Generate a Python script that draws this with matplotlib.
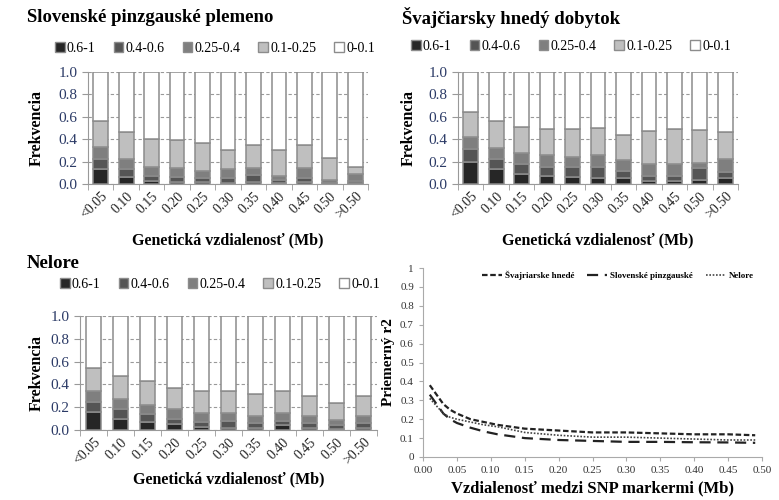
import numpy as np
import matplotlib
matplotlib.use("Agg")
import matplotlib.pyplot as plt
from matplotlib.patches import Patch
from matplotlib.lines import Line2D

plt.rcParams['font.family'] = ['Liberation Serif', 'DejaVu Serif']

# categories of genetic distance
categories = ['<0.05', '0.10', '0.15', '0.20', '0.25', '0.30', '0.35', '0.40', '0.45', '0.50', '>0.50']
classes = ['0.6-1', '0.4-0.6', '0.25-0.4', '0.1-0.25', '0-0.1']

# Slovenske pinzgauske plemeno
slov_06_1 = [0.13, 0.06, 0.03, 0.02, 0.02, 0.01, 0.02, 0.01, 0.02, 0.00, 0.01]
slov_04_06 = [0.09, 0.07, 0.04, 0.04, 0.03, 0.04, 0.06, 0.03, 0.03, 0.01, 0.02]
slov_025_04 = [0.11, 0.09, 0.08, 0.08, 0.07, 0.08, 0.06, 0.03, 0.09, 0.03, 0.06]
slov_01_025 = [0.23, 0.24, 0.25, 0.25, 0.25, 0.17, 0.21, 0.23, 0.21, 0.19, 0.06]

# Svajciarsky hnedy dobytok
svaj_06_1 = [0.20, 0.13, 0.09, 0.07, 0.06, 0.05, 0.05, 0.03, 0.03, 0.04, 0.05]
svaj_04_06 = [0.11, 0.09, 0.09, 0.08, 0.09, 0.10, 0.07, 0.04, 0.04, 0.10, 0.06]
svaj_025_04 = [0.11, 0.10, 0.10, 0.11, 0.09, 0.11, 0.09, 0.11, 0.11, 0.05, 0.11]
svaj_01_025 = [0.22, 0.24, 0.23, 0.23, 0.25, 0.24, 0.23, 0.29, 0.31, 0.29, 0.24]

# Nelore
nel_06_1 = [0.16, 0.10, 0.07, 0.05, 0.03, 0.02, 0.02, 0.04, 0.02, 0.01, 0.02]
nel_04_06 = [0.09, 0.08, 0.07, 0.05, 0.04, 0.06, 0.04, 0.04, 0.04, 0.03, 0.04]
nel_025_04 = [0.09, 0.09, 0.08, 0.08, 0.08, 0.07, 0.06, 0.07, 0.06, 0.05, 0.06]
nel_01_025 = [0.20, 0.20, 0.21, 0.19, 0.19, 0.19, 0.20, 0.19, 0.18, 0.15, 0.18]

# mean r2 vs distance
dist = [0.01, 0.02, 0.03, 0.04, 0.05, 0.07, 0.09, 0.11, 0.13, 0.15, 0.20, 0.25, 0.30, 0.35, 0.40, 0.45, 0.49]
r2_svaj = [0.38, 0.33, 0.28, 0.25, 0.23, 0.20, 0.185, 0.17, 0.16, 0.15, 0.14, 0.13, 0.13, 0.125, 0.12, 0.12, 0.115]
r2_slov = [0.33, 0.28, 0.23, 0.20, 0.18, 0.155, 0.135, 0.12, 0.11, 0.10, 0.09, 0.085, 0.08, 0.08, 0.078, 0.077, 0.075]
r2_nel = [0.31, 0.27, 0.23, 0.21, 0.20, 0.185, 0.17, 0.16, 0.145, 0.13, 0.115, 0.105, 0.105, 0.10, 0.095, 0.09, 0.09]

colors = ['#262626', '#555555', '#7f7f7f', '#bfbfbf', '#ffffff']
tick_col = '#2b3a66'

W, H = 779, 500
fig = plt.figure(figsize=(W / 100, H / 100), dpi=100)


def px_axes(x0, y0, x1, y1):
    # pixel box (top-left origin) -> figure axes
    return fig.add_axes([x0 / W, 1 - y1 / H, (x1 - x0) / W, (y1 - y0) / H])


def stacked(box, title, title_xy, leg_xy, xlab_y, ylab_x, segs):
    ax = px_axes(*box)
    x = np.arange(len(categories))
    vals = [np.array(s) for s in segs]
    vals.append(1 - sum(vals))
    bottom = np.zeros(len(categories))
    for v, c in zip(vals, colors):
        ax.bar(x, v, 0.58, bottom=bottom, color=c, edgecolor='#8c8c8c', linewidth=1.1, zorder=3)
        bottom += v
    ax.set_xlim(-0.5, len(categories) - 0.5)
    ax.set_ylim(0, 1.0)
    ax.set_yticks(np.arange(0, 1.01, 0.2))
    ax.set_yticklabels(['%.1f' % t for t in np.arange(0, 1.01, 0.2)])
    ax.set_xticks(x)
    ax.set_xticklabels(categories, rotation=45, ha='right', rotation_mode='anchor', fontsize=10)
    ax.set_xticks(np.arange(-0.5, len(categories)), minor=True)
    ax.tick_params(axis='x', which='major', length=0, pad=4, colors='#222222')
    ax.tick_params(axis='x', which='minor', length=4, color='#999999')
    ax.tick_params(axis='y', labelsize=11, labelcolor=tick_col, color='#999999', length=4)
    ax.yaxis.grid(True, linestyle=(0, (3, 2)), color='#999999', linewidth=0.8, zorder=0)
    for s in ['top', 'right']:
        ax.spines[s].set_visible(False)
    for s in ['left', 'bottom']:
        ax.spines[s].set_color('#999999')
    fig.text(title_xy[0] / W, 1 - title_xy[1] / H, title, fontsize=13.5, fontweight='bold', va='center')
    cx = (box[0] + box[2]) / 2
    fig.text(cx / W, 1 - xlab_y / H, 'Genetická vzdialenosť (Mb)', fontsize=11.5, fontweight='bold',
             ha='center', va='center')
    fig.text(ylab_x / W, 1 - (box[1] + box[3]) / 2 / H, 'Frekvencia', fontsize=11.5, fontweight='bold',
             rotation=90, ha='center', va='center')
    handles = [Patch(facecolor=c, edgecolor='#8c8c8c', label=l) for c, l in zip(colors, classes)]
    fig.legend(handles=handles, loc='center', bbox_to_anchor=(leg_xy[0] / W, 1 - leg_xy[1] / H),
               ncol=5, frameon=False, fontsize=10, handlelength=0.7, handleheight=0.7,
               handletextpad=0.15, columnspacing=1.3)
    return ax


stacked((88, 72, 368, 184), 'Slovenské pinzgauské plemeno', (27, 17), (215, 48), 240, 37,
        [slov_06_1, slov_04_06, slov_025_04, slov_01_025])
stacked((458, 72, 738, 184), 'Švajčiarsky hnedý dobytok', (402, 17), (571, 46), 240, 409,
        [svaj_06_1, svaj_04_06, svaj_025_04, svaj_01_025])
stacked((80, 316, 377, 430), 'Nelore', (27, 263), (220, 284), 479, 37,
        [nel_06_1, nel_04_06, nel_025_04, nel_01_025])

# line chart
ax = px_axes(423, 268, 762, 457)
ax.plot(dist, r2_svaj, color='#222222', linestyle=(0, (2.5, 1.2)), linewidth=1.6)
ax.plot(dist, r2_slov, color='#222222', linestyle=(0, (5, 3)), linewidth=1.6)
ax.plot(dist, r2_nel, color='#444444', linestyle=(0, (1, 1)), linewidth=1.2)
ax.set_xlim(0, 0.5)
ax.set_ylim(0, 1)
ax.set_xticks(np.arange(0, 0.51, 0.05))
ax.set_xticklabels(['%.2f' % t for t in np.arange(0, 0.51, 0.05)])
ax.set_yticks(np.arange(0, 1.01, 0.1))
ax.set_yticklabels(['0', '0.1', '0.2', '0.3', '0.4', '0.5', '0.6', '0.7', '0.8', '0.9', '1'])
ax.tick_params(labelsize=8, colors='#333333', length=3)
ax.tick_params(color='#aaaaaa')
for s in ['top', 'right']:
    ax.spines[s].set_visible(False)
for s in ['left', 'bottom']:
    ax.spines[s].set_color('#aaaaaa')
ax.set_xlabel('Vzdialenosť medzi SNP markermi (Mb)', fontsize=12, fontweight='bold', labelpad=4)
ax.set_ylabel('Priemerný r2', fontsize=11, fontweight='bold', labelpad=4)
leg_handles = [
    Line2D([], [], color='#222222', linestyle=(0, (2.5, 1.2)), linewidth=1.6, label='Švajriarske hnedé'),
    Line2D([], [], color='#222222', linestyle=(0, (5, 3)), linewidth=1.6, label='Slovenské pinzgauské'),
    Line2D([], [], color='#444444', linestyle=(0, (1, 1)), linewidth=1.2, label='Nelore'),
]
ax.legend(handles=leg_handles, loc='upper right', bbox_to_anchor=(1.0, 1.03), ncol=3, frameon=False,
          prop={'size': 6.5, 'weight': 'bold'}, handlelength=2.2, handletextpad=0.3, columnspacing=1.5)

fig.savefig('out.png', dpi=100)
